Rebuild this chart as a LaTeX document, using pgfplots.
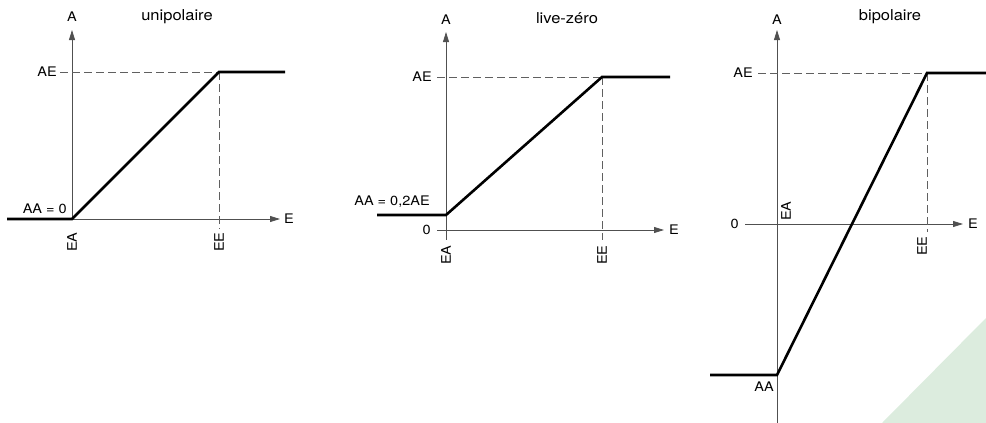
\documentclass[border=0pt]{standalone}
\usepackage{fontspec}
\setmainfont[FakeStretch=1.1]{TeX Gyre Heros}
\usepackage{pgfplots}
\pgfplotsset{compat=1.18}
\usetikzlibrary{arrows.meta}
\definecolor{axgray}{HTML}{505050}
\definecolor{dgray}{HTML}{606060}
\definecolor{lgreen}{HTML}{DCECDE}
\newcommand{\lblfont}{\fontsize{13.2}{15}\selectfont}
\newcommand{\ttlfont}{\fontsize{15}{17}\selectfont}
\begin{document}
\lblfont
\begin{tikzpicture}[
  lbl/.style={inner sep=0pt, font=\lblfont},
  ttl/.style={inner sep=0pt, font=\ttlfont},
  axln/.style={axgray, line width=0.8pt, -{Triangle[length=10pt,width=6pt]}},
  thn/.style={axgray, line width=0.8pt},
  dsh/.style={dgray, line width=0.8pt, dash pattern=on 8pt off 4pt},
  thk/.style={black, line width=2.6pt, line join=miter}]
\begin{axis}[scale only axis, width=986pt, height=423pt,
  xmin=0, xmax=986, ymin=0, ymax=423, y dir=reverse,
  hide axis, clip=false]
% decoration
\addplot[fill=lgreen, draw=none] coordinates {(882,423) (986,318) (986,423) (882,423)};
% ---------- Panel 1: unipolaire ----------
\addplot[axln] coordinates {(72,219) (72,30)};
\addplot[axln] coordinates {(72,219) (280,219)};
\addplot[dsh] coordinates {(60,72) (219,72)};
\addplot[dsh] coordinates {(219,72) (219,229)};
\addplot[thk] coordinates {(7,219) (72,219) (219,72) (285,72)};
\node[lbl] at (axis cs:72,17) {A};
\node[ttl] at (axis cs:177,17) {unipolaire};
\node[lbl,anchor=east] at (axis cs:57,72) {AE};
\node[lbl,anchor=east] at (axis cs:67,209) {AA = 0};
\node[lbl] at (axis cs:289,219) {E};
\node[lbl,rotate=90] at (axis cs:72,242) {EA};
\node[lbl,rotate=90] at (axis cs:219,242) {EE};
% ---------- Panel 2: live-zero ----------
\addplot[thn] coordinates {(446,230) (446,240)};
\addplot[axln] coordinates {(446,230) (446,32)};
\addplot[axln] coordinates {(437,230) (664,230)};
\addplot[dsh] coordinates {(437,77) (602,77)};
\addplot[dsh] coordinates {(602,77) (602,240)};
\addplot[thk] coordinates {(377,215) (446,215) (602,77) (670,77)};
\node[lbl] at (axis cs:446,20) {A};
\node[ttl] at (axis cs:567,18) {live-zéro};
\node[lbl,anchor=east] at (axis cs:432,77) {AE};
\node[lbl,anchor=east] at (axis cs:430,202) {AA = 0,2AE};
\node[lbl,anchor=east] at (axis cs:431,230) {0};
\node[lbl] at (axis cs:674,230) {E};
\node[lbl,rotate=90] at (axis cs:446,255) {EA};
\node[lbl,rotate=90] at (axis cs:602,255) {EE};
% ---------- Panel 3: bipolaire ----------
\addplot[axln] coordinates {(777,423) (777,30)};
\addplot[axln] coordinates {(745,224) (963,224)};
\addplot[dsh] coordinates {(758,73) (927,73)};
\addplot[dsh] coordinates {(927,73) (927,232)};
\addplot[thk] coordinates {(710,375) (777,375) (927,73) (986,73)};
\node[lbl] at (axis cs:777,20) {A};
\node[ttl] at (axis cs:890,17) {bipolaire};
\node[lbl,anchor=east] at (axis cs:753,73) {AE};
\node[lbl,anchor=east] at (axis cs:739,224) {0};
\node[lbl] at (axis cs:973,224) {E};
\node[lbl,rotate=90] at (axis cs:786,211) {EA};
\node[lbl,rotate=90] at (axis cs:922,246) {EE};
\node[lbl] at (axis cs:764,387) {AA};
\end{axis}
\pgfresetboundingbox
\useasboundingbox (current axis.south west) rectangle (current axis.north east);
\end{tikzpicture}
\end{document}
